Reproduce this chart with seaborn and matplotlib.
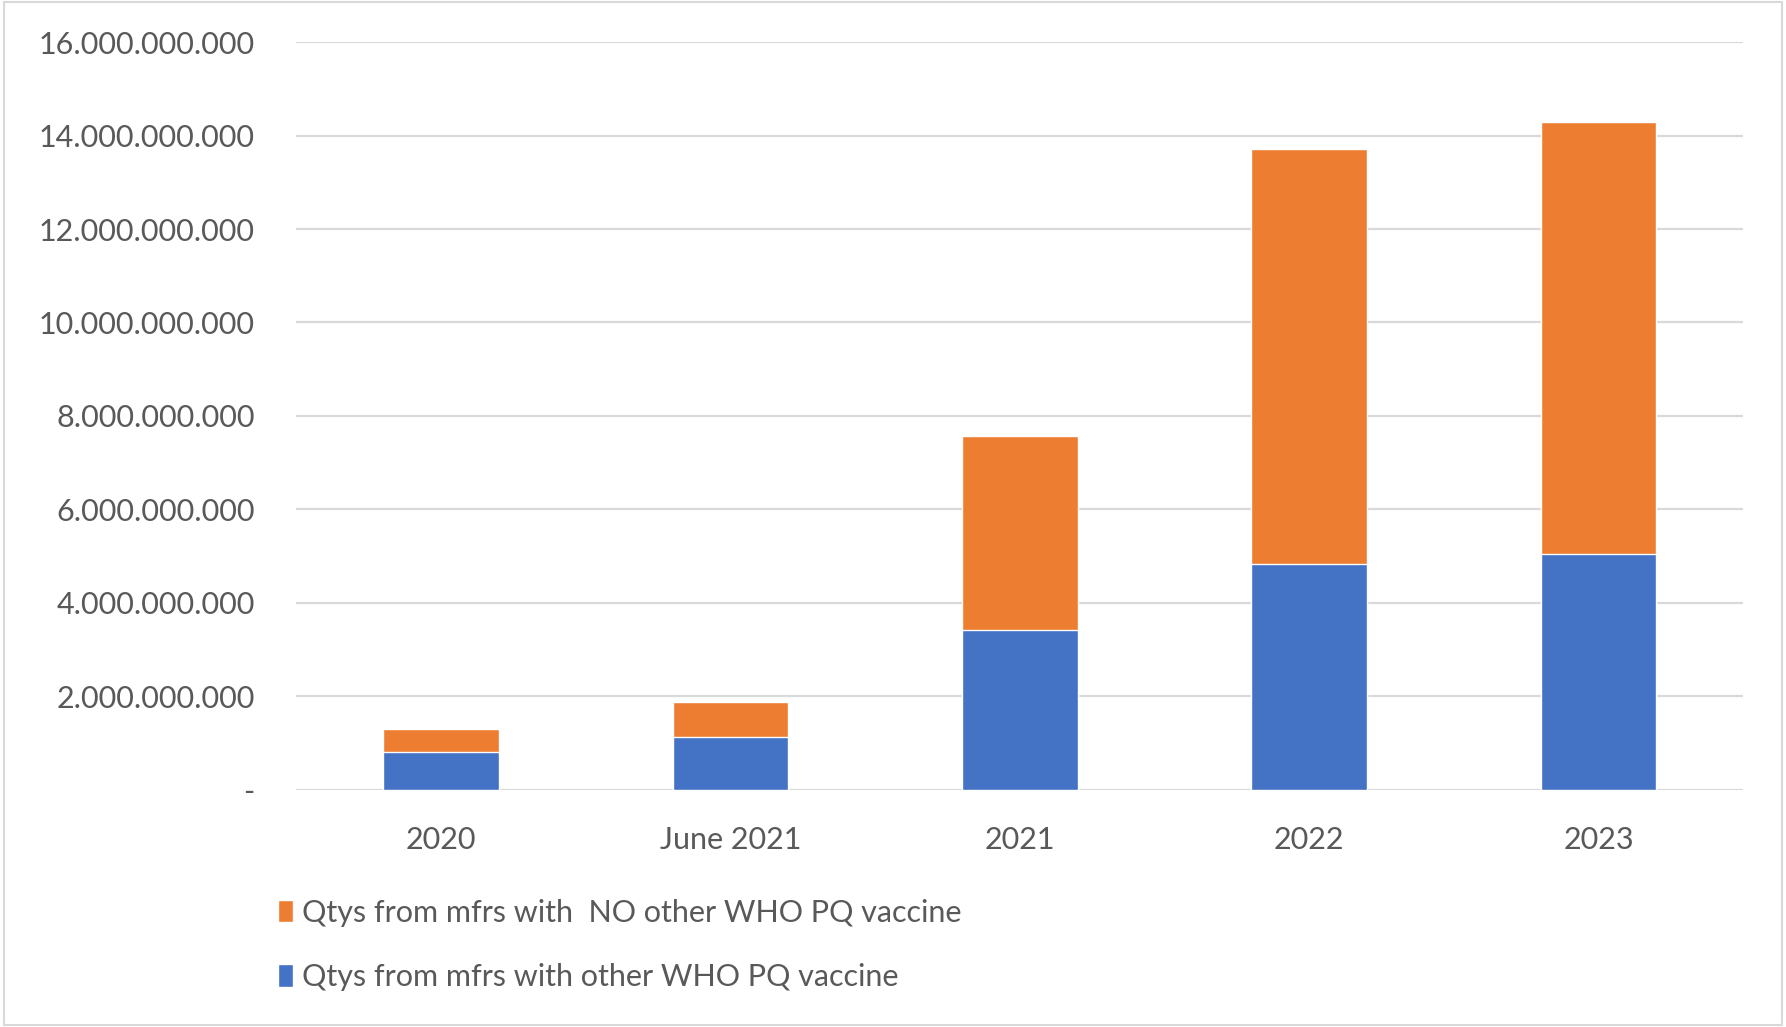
import numpy as np
import pandas as pd
import seaborn as sns
import matplotlib.pyplot as plt
from matplotlib.ticker import FuncFormatter
from matplotlib.patches import Rectangle

# 数据 (从图中读取, 单位: 剂)
categories = ['2020', 'June 2021', '2021', '2022', '2023']
with_other_pq = [0.81e9, 1.12e9, 3.41e9, 4.83e9, 5.05e9]
no_other_pq = [0.48e9, 0.75e9, 4.17e9, 8.89e9, 9.25e9]
label_no = 'Qtys from mfrs with  NO other WHO PQ vaccine'
label_with = 'Qtys from mfrs with other WHO PQ vaccine'

orange = '#ED7D31'
blue = '#4472C4'
grey_text = '#595959'

df = pd.DataFrame({'cat': categories,
                   'with': with_other_pq,
                   'no': no_other_pq})
df['total'] = df['with'] + df['no']

sns.set_style('white')
plt.rcParams['font.family'] = ['Lato', 'DejaVu Sans']

fig = plt.figure(figsize=(17.86, 10.27), dpi=100)
ax = fig.add_axes([0.166, 0.231, 0.81, 0.728])

# 堆叠柱状图: 先画总量(橙色), 再画底部(蓝色)
sns.barplot(data=df, x='cat', y='total', color=orange, width=0.4,
            saturation=1, ax=ax, label=label_no, zorder=3)
sns.barplot(data=df, x='cat', y='with', color=blue, width=0.4,
            saturation=1, ax=ax, label=label_with, zorder=3)

ax.set_ylim(0, 16e9)
ax.set_xlim(-0.5, 4.5)
ax.set_yticks(np.arange(0, 16e9 + 1, 2e9))


def fmt(v, pos):
    if v == 0:
        return '-'
    return f'{int(v):,}'.replace(',', '.')


ax.yaxis.set_major_formatter(FuncFormatter(fmt))
ax.grid(axis='y', color='#D9D9D9', linewidth=1.6, zorder=0)
ax.set_axisbelow(True)
for s in ax.spines.values():
    s.set_visible(False)
ax.tick_params(axis='both', length=0, labelsize=22, colors=grey_text)
ax.tick_params(axis='y', pad=30)
ax.tick_params(axis='x', pad=26)
ax.set_xlabel('')
ax.set_ylabel('')

handles, labels = ax.get_legend_handles_labels()
leg = fig.legend(handles, labels, loc='center left',
                 bbox_to_anchor=(0.14, 0.08), frameon=False,
                 fontsize=22, labelcolor=grey_text, handlelength=0.5,
                 handleheight=0.75, handletextpad=0.3, labelspacing=1.2)
if ax.get_legend() is not None:
    ax.get_legend().remove()

# 图表外框
fig.patches.append(Rectangle((0.002, 0.002), 0.996, 0.996,
                             transform=fig.transFigure, fill=False,
                             edgecolor='#D9D9D9', linewidth=1.5))

fig.savefig('out.png', dpi=100)
